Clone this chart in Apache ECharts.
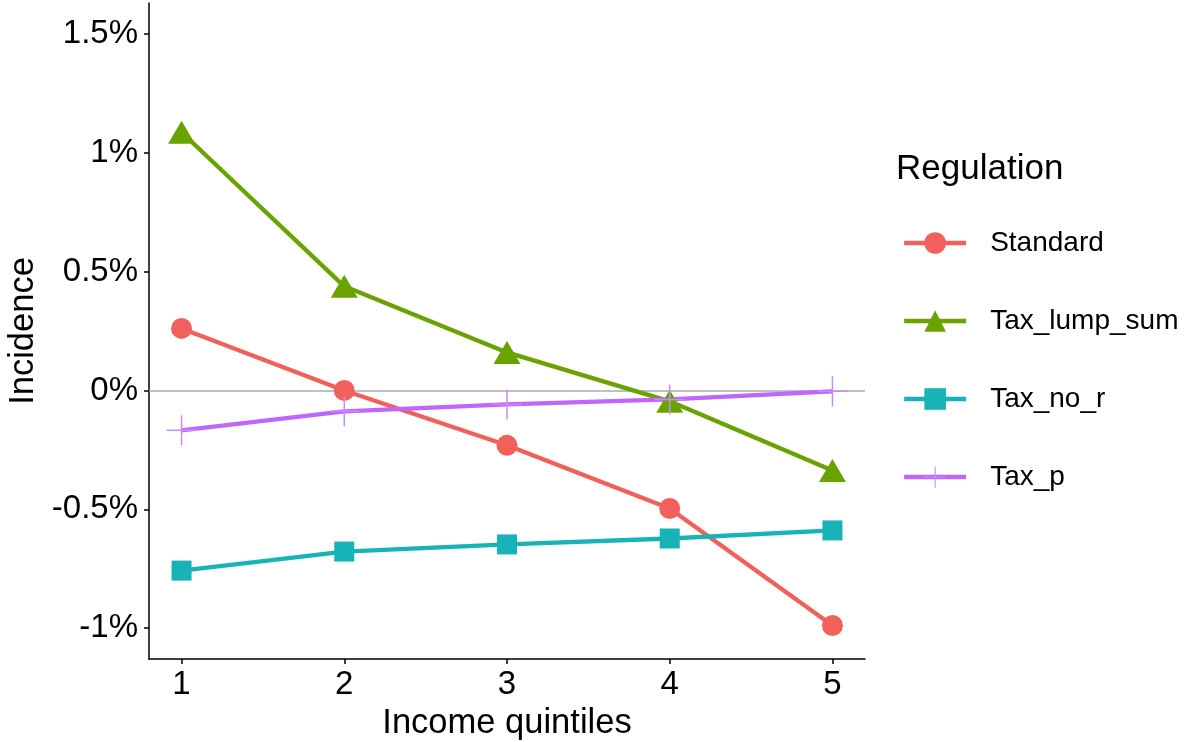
<!DOCTYPE html>
<html>
<head>
<meta charset="utf-8">
<script src="https://cdn.jsdelivr.net/npm/echarts@6/dist/echarts.min.js"></script>
<style>
  html, body { margin: 0; padding: 0; background: #fff; }
  #chart { width: 1195px; height: 742px; }
</style>
</head>
<body>
<div id="chart"></div>
<script>
// 收入五分位
const quintiles = [1, 2, 3, 4, 5];
const yTicks = [-1, -0.5, 0, 0.5, 1, 1.5];
// 各方案的 incidence（单位：%）
const standard = [0.261, 0.0, -0.231, -0.497, -0.989];
const taxLumpSum = [1.086, 0.438, 0.160, -0.046, -0.337];
const taxNoR = [-0.758, -0.678, -0.648, -0.623, -0.589];
const taxP = [-0.168, -0.088, -0.059, -0.038, -0.004];

const font = 'Liberation Sans, Arial, sans-serif';
const plusPath = 'path://M14.25,0 H15.75 V14.25 H30 V15.75 H15.75 V30 H14.25 V15.75 H0 V14.25 H14.25 Z';

function pairs(vals) {
  return quintiles.map((q, i) => [q, vals[i]]);
}

const chart = echarts.init(document.getElementById('chart'));

function makeSeries(name, vals, color, symbol, size, markerColor) {
  return {
    name: name,
    type: 'line',
    data: pairs(vals),
    symbol: symbol,
    symbolSize: size,
    showSymbol: true,
    z: 3,
    lineStyle: { color: color, width: 4.3 },
    itemStyle: { color: markerColor || color },
    emphasis: { disabled: true },
    animation: false
  };
}

const series = [
  makeSeries('Standard', standard, '#F2605C', 'circle', 21),
  makeSeries('Tax_lump_sum', taxLumpSum, '#6AA300', 'triangle', [27, 23]),
  makeSeries('Tax_no_r', taxNoR, '#17B3B7', 'rect', 20),
  makeSeries('Tax_p', taxP, '#BF66FF', plusPath, 30, '#CB8BFF')
];
// 零线
series[0].markLine = {
  silent: true,
  symbol: ['none', 'none'],
  label: { show: false },
  z: 1,
  lineStyle: { color: '#ababab', width: 1.5, type: 'solid' },
  data: [{ yAxis: 0 }],
  animation: false
};

const option = {
  backgroundColor: '#fff',
  animation: false,
  title: {
    text: 'Regulation',
    left: 896,
    top: 152,
    padding: 0,
    textStyle: { fontFamily: font, fontSize: 35, fontWeight: 'normal', color: '#000' }
  },
  legend: {
    orient: 'vertical',
    left: 902,
    top: 229,
    padding: 0,
    itemWidth: 62,
    itemHeight: 27,
    itemGap: 50,
    lineStyle: { width: 4.3 },
    data: ['Standard', 'Tax_lump_sum', 'Tax_no_r', 'Tax_p'],
    textStyle: { fontFamily: font, fontSize: 28, color: '#000', padding: [0, 0, 0, 19], lineHeight: 27 }
  },
  grid: { left: 149, right: 330, top: 3, bottom: 83, containLabel: false, outerBoundsMode: 'none' },
  xAxis: {
    type: 'value',
    min: 0.8,
    max: 5.2,
    name: 'Income quintiles',
    nameLocation: 'middle',
    nameGap: 40,
    nameTextStyle: { fontFamily: font, fontSize: 34.5, color: '#000' },
    axisLine: { show: true, onZero: false, lineStyle: { color: '#000', width: 1.5 } },
    axisTick: { show: true, length: 5, customValues: quintiles, lineStyle: { color: '#000', width: 1.5 } },
    axisLabel: { customValues: quintiles, fontFamily: font, fontSize: 33, color: '#000', margin: 9 },
    splitLine: { show: false }
  },
  yAxis: {
    type: 'value',
    min: -1.13,
    max: 1.63,
    name: 'Incidence',
    nameLocation: 'middle',
    nameGap: 102,
    nameTextStyle: { fontFamily: font, fontSize: 34.5, color: '#000' },
    axisLine: { show: true, onZero: false, lineStyle: { color: '#000', width: 1.5 } },
    axisTick: { show: true, length: 5, customValues: yTicks, lineStyle: { color: '#000', width: 1.5 } },
    axisLabel: {
      customValues: yTicks,
      fontFamily: font,
      fontSize: 33,
      color: '#000',
      margin: 11,
      formatter: v => (Math.round(v * 10) / 10) + '%'
    },
    splitLine: { show: false }
  },
  series: series
};

chart.setOption(option);
</script>
</body>
</html>
